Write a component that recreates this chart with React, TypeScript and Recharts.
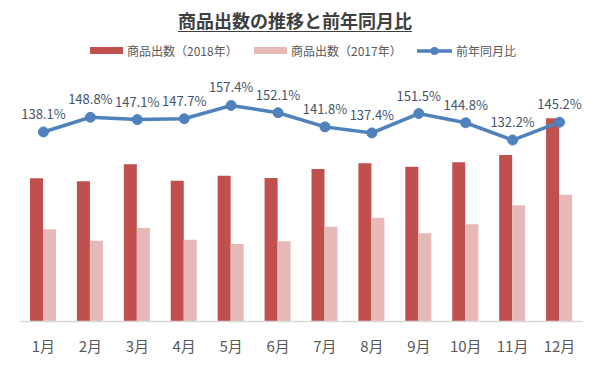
import { Bar, ComposedChart, LabelList, Line, XAxis, YAxis } from "recharts";

const months = ["1月", "2月", "3月", "4月", "5月", "6月", "7月", "8月", "9月", "10月", "11月", "12月"];
const sales2018 = [143.2, 140.2, 157.2, 140.8, 145.8, 143.5, 152.5, 158.2, 154.8, 159.2, 166.5, 203.2];
const sales2017 = [92.2, 80.8, 93.5, 81.8, 77.5, 80.2, 94.8, 103.8, 88.2, 97.2, 116.2, 126.8];
const yoyRatio = [138.1, 148.8, 147.1, 147.7, 157.4, 152.1, 141.8, 137.4, 151.5, 144.8, 132.2, 145.2];

const FONT = '"Noto Sans CJK JP", "Noto Sans", sans-serif';
const RED = "#C0504D";
const PINK = "#E6B9B8";
const BLUE = "#4F81BD";

const data = months.map((m, i) => ({
  month: m,
  y2018: sales2018[i],
  y2017: sales2017[i],
  ratio: yoyRatio[i],
}));

function LegendRow() {
  const item = (left: number, swatch: JSX.Element, label: string) => (
    <div style={{ position: "absolute", left, top: 42, display: "flex", alignItems: "center", height: 17 }}>
      {swatch}
      <span style={{ marginLeft: 4, fontSize: 12, color: "#595959", whiteSpace: "nowrap" }}>{label}</span>
    </div>
  );
  return (
    <>
      {item(90, <div style={{ width: 33, height: 7, background: RED }} />, "商品出数（2018年）")}
      {item(254, <div style={{ width: 33, height: 7, background: PINK }} />, "商品出数（2017年）")}
      {item(
        417,
        <svg width={35} height={12}>
          <line x1={0} y1={6} x2={35} y2={6} stroke={BLUE} strokeWidth={3.5} />
          <circle cx={17.5} cy={6} r={4} fill={BLUE} />
        </svg>,
        "前年同月比"
      )}
    </>
  );
}

export default function App() {
  return (
    <div style={{ position: "absolute", left: 0, top: 0, width: 600, height: 368, background: "#fff", fontFamily: FONT }}>
      <div
        style={{
          position: "absolute",
          left: 0,
          top: 7,
          width: 590,
          textAlign: "center",
          fontSize: 18,
          fontWeight: 700,
          color: "#404040",
          textDecoration: "underline",
          textUnderlineOffset: 3,
        }}
      >
        商品出数の推移と前年同月比
      </div>
      <LegendRow />
      <ComposedChart
        width={600}
        height={368}
        data={data}
        margin={{ top: 47, right: 17, left: 20, bottom: 16.5 }}
        barGap={0}
      >
        <XAxis
          dataKey="month"
          height={30}
          tickLine={false}
          tickSize={0}
          tickMargin={20}
          axisLine={{ stroke: "#d9d9d9", strokeWidth: 1.5 }}
          tick={{ fill: "#595959", fontSize: 15, fontFamily: FONT }}
          interval={0}
        />
        <YAxis yAxisId="left" hide domain={[0, 274.5]} />
        <YAxis yAxisId="right" orientation="right" hide domain={[0, 200]} />
        <Bar yAxisId="left" dataKey="y2018" fill={RED} barSize={13} isAnimationActive={false} />
        <Bar yAxisId="left" dataKey="y2017" fill={PINK} barSize={13} isAnimationActive={false} />
        <Line
          yAxisId="right"
          dataKey="ratio"
          stroke={BLUE}
          strokeWidth={3.5}
          dot={{ r: 5, fill: BLUE, stroke: BLUE, strokeWidth: 1 }}
          isAnimationActive={false}
        >
          <LabelList
            dataKey="ratio"
            position="top"
            offset={13}
            formatter={(v: number) => `${v.toFixed(1)}%`}
            style={{ fill: "#44546A", fontSize: 13, fontFamily: FONT }}
          />
        </Line>
      </ComposedChart>
    </div>
  );
}
